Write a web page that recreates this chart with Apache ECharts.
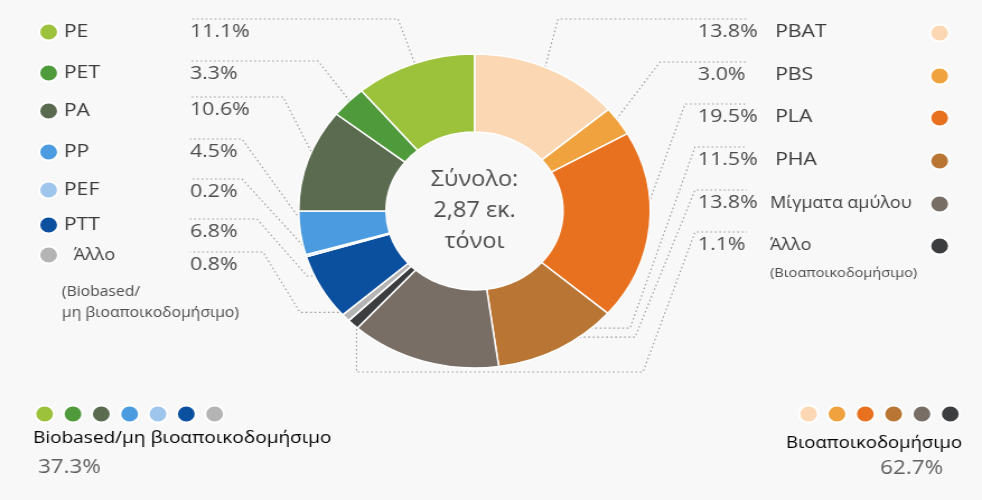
<!DOCTYPE html>
<html><head><meta charset="utf-8">
<script src="https://cdn.jsdelivr.net/npm/echarts@6/dist/echarts.min.js"></script>
<style>
html,body{margin:0;padding:0;background:#f8f8f8;overflow:hidden;width:982px;height:500px}
#c{width:877px;height:500px;transform:scaleX(1.119726);transform-origin:0 0;}
</style>
</head><body><div id="c"></div>
<script>
// ---------------- data ----------------
const leftNames  = ['PE', 'PET', 'PA', 'PP', 'PEF', 'PTT', 'Άλλο'];
const leftValues = [11.1, 3.3, 10.6, 4.5, 0.2, 6.8, 0.8];
const rightNames  = ['PBAT', 'PBS', 'PLA', 'PHA', 'Μίγματα αμύλου', 'Άλλο'];
const rightValues = [13.8, 3.0, 19.5, 11.5, 13.8, 1.1];
const leftGroupLabel  = 'Biobased/μη βιοαποικοδομήσιμο';
const rightGroupLabel = 'Βιοαποικοδομήσιμο';
const leftNote  = '(Biobased/\nμη βιοαποικοδομήσιμο)';
const rightNote = '(Βιοαποικοδομήσιμο)';
const centerLines = ['Σύνολο:', '2,87 εκ.', 'τόνοι'];

// ---------------- style ----------------
const leftColors  = ['#9cc23c', '#4f9a3b', '#5a6b4f', '#4b9be0', '#9ec5ec', '#0b4f9f', '#b4b4b4'];
const rightColors = ['#fbd7b4', '#efa23d', '#e8711f', '#b87534', '#786e66', '#3b3d3f'];
const FONT = "'Open Sans', 'Noto Sans', sans-serif";
const SX = 982 / 877;
const X = v => v / SX;           // reference px -> chart px
const CX = X(474.5), CY = 211, R_IN = 79, R_OUT = 157;
const DOT = 17;

// layout (reference pixel coordinates)
const LEFT_PCT_X = 190, RIGHT_PCT_X = 698, RIGHT_LINE_END = 747, LINE_OFF = 13;
const leftPctY  = [32, 74, 110, 152, 192, 232, 265];
const leftNameY = [32, 73, 111, 152, 190, 225, 255];
const rightRowY = [32, 75, 117, 160, 203, 245];
const leftRoutes = [
  {f: .93, via: [], elbow: 398},
  {f: .95, via: [], elbow: 318},
  {f: .95, via: [], elbow: 283},
  {f: .95, via: [], elbow: 242},
  {f: .97, via: [], elbow: 242},
  {f: .85, via: [[307, 'A']], elbow: 257},
  {f: .95, via: [[300, 'A']], elbow: 263}
];
const rightRoutes = [
  {f: .90, via: [], elbow: 558},
  {f: .95, via: [], elbow: 660},
  {f: .95, via: [], elbow: 685},
  {f: .85, via: [[630, 'A']], elbow: 695},
  {f: .84, via: [[635, 'A']], elbow: 695},
  {f: .97, via: [['A', 372], [643, 372]], elbow: 695}
];

// ---------------- build ----------------
const pieData = [];
const meta = [];
rightNames.forEach((n, i) => {
  pieData.push({name: 'R|' + n, value: rightValues[i], itemStyle: {color: rightColors[i]}});
  meta.push({side: 'R', idx: i});
});
for (let i = leftNames.length - 1; i >= 0; i--) {
  pieData.push({name: 'L|' + leftNames[i], value: leftValues[i], itemStyle: {color: leftColors[i]}});
  meta.push({side: 'L', idx: i});
}
const total = pieData.reduce((s, d) => s + d.value, 0);
const leftSum = leftValues.reduce((s, v) => s + v, 0);
const rightSum = rightValues.reduce((s, v) => s + v, 0);

function labelFormatter(p) {
  const m = meta[p.dataIndex];
  const pct = p.value.toFixed(1) + '%';
  if (m.side === 'L') return pct;
  const name = rightNames[m.idx];
  if (m.idx === 4) return '{p2|' + pct + '}{s|' + name + '}';
  if (m.idx === 5) return '{p2|' + pct + '}{s|' + name + '}\n{sub|' + rightNote + '}';
  return '{p|' + pct + '}{n|' + name + '}';
}

function labelLayout(p) {
  const m = meta[p.dataIndex];
  let ux, uy;
  const pts = p.labelLinePoints;
  if (pts && pts[0]) {
    ux = pts[0][0] - CX; uy = pts[0][1] - CY;
    const l = Math.hypot(ux, uy) || 1; ux /= l; uy /= l;
  } else {
    let before = 0;
    for (let k = 0; k < p.dataIndex; k++) before += pieData[k].value;
    const ang = (before + pieData[p.dataIndex].value / 2) / total * 2 * Math.PI;
    ux = Math.sin(ang); uy = -Math.cos(ang);
  }
  const r = m.side === 'L' ? leftRoutes[m.idx] : rightRoutes[m.idx];
  const A = [CX + ux * R_OUT * r.f, CY + uy * R_OUT * r.f];
  const line = [A];
  r.via.forEach(v => line.push([v[0] === 'A' ? A[0] : X(v[0]), v[1] === 'A' ? A[1] : v[1]]));
  if (m.side === 'L') {
    const y = leftPctY[m.idx], ly = y - LINE_OFF;
    line.push([X(r.elbow), ly], [X(LEFT_PCT_X), ly]);
    return {x: X(LEFT_PCT_X), y: y, align: 'left', verticalAlign: 'middle', labelLinePoints: line};
  }
  const y = rightRowY[m.idx], ly = y - LINE_OFF;
  line.push([X(r.elbow), ly], [X(RIGHT_LINE_END), ly]);
  return {x: X(RIGHT_PCT_X), y: y - 12, align: 'left', verticalAlign: 'top', labelLinePoints: line};
}

const legends = [];
leftNames.forEach((n, i) => {
  legends.push({
    left: X(38), top: leftNameY[i] - 9.5, orient: 'vertical', padding: 0,
    icon: 'circle', itemWidth: DOT, itemHeight: DOT, data: ['L|' + n],
    formatter: name => name.split('|')[1],
    textStyle: {fontFamily: FONT, fontSize: i === 6 ? 16 : 19, color: '#3c3c3c', padding: i === 6 ? [0, 0, 0, 9] : 0}
  });
});
rightNames.forEach((n, i) => {
  legends.push({
    left: X(929), top: rightRowY[i] - DOT / 2, orient: 'vertical', padding: 0,
    icon: 'circle', itemWidth: DOT, itemHeight: DOT, data: ['R|' + n],
    formatter: () => '', textStyle: {fontSize: 10}
  });
});
legends.push({
  left: X(34), top: 413 - DOT / 2, orient: 'horizontal', padding: 0, itemGap: 6.3,
  icon: 'circle', itemWidth: DOT, itemHeight: DOT, data: leftNames.map(n => 'L|' + n),
  formatter: () => '', textStyle: {fontSize: 10}
});
legends.push({
  left: X(798), top: 413 - DOT / 2, orient: 'horizontal', padding: 0, itemGap: 6.3,
  icon: 'circle', itemWidth: DOT, itemHeight: DOT, data: rightNames.map(n => 'R|' + n),
  formatter: () => '', textStyle: {fontSize: 10}
});

function txt(x, y, text, size, color, align, vAlign, lh) {
  return {type: 'text', x: x, y: y, silent: true, style: {
    text: text, fontFamily: FONT, fontSize: size, fill: color,
    align: align, textAlign: align, verticalAlign: vAlign, textVerticalAlign: vAlign,
    lineHeight: lh || size * 1.3
  }};
}

const chart = echarts.init(document.getElementById('c'), null, {renderer: 'canvas'});
chart.setOption({
  animation: false,
  backgroundColor: '#f8f8f8',
  legend: legends,
  graphic: [
    txt(CX, CY, centerLines.join('\n'), 21, '#4d4d4d', 'center', 'middle', 31),
    txt(X(62), 282, leftNote, 14, '#4d4d4d', 'left', 'top', 21),
    txt(X(33), 438, leftGroupLabel, 17, '#000', 'left', 'middle'),
    txt(X(38), 467, leftSum.toFixed(1) + '%', 20, '#606060', 'left', 'middle'),
    txt(X(962), 443, rightGroupLabel, 16.5, '#000', 'right', 'middle'),
    txt(X(943), 468, rightSum.toFixed(1) + '%', 20, '#606060', 'right', 'middle')
  ],
  series: [{
    type: 'pie',
    center: [CX, CY],
    radius: [R_IN, R_OUT],
    startAngle: 90,
    clockwise: true,
    avoidLabelOverlap: false,
    emphasis: {scale: false},
    itemStyle: {borderColor: '#ffffff', borderWidth: 1.5},
    label: {
      show: true, position: 'outside', fontFamily: FONT, fontSize: 19, color: '#4d4d4d',
      formatter: labelFormatter,
      rich: {
        p:   {fontFamily: FONT, fontSize: 19, color: '#4d4d4d', width: X(775 - 698), lineHeight: 24},
        p2:  {fontFamily: FONT, fontSize: 19, color: '#4d4d4d', width: X(770 - 698), lineHeight: 24},
        n:   {fontFamily: FONT, fontSize: 19, color: '#3c3c3c', lineHeight: 24},
        s:   {fontFamily: FONT, fontSize: 16, color: '#3c3c3c', lineHeight: 24},
        sub: {fontFamily: FONT, fontSize: 13, color: '#4d4d4d', lineHeight: 32, padding: [0, 0, 0, X(770 - 698)]}
      }
    },
    labelLine: {show: true, length: 10, length2: 10, smooth: false,
      lineStyle: {color: '#9a9a9a', width: 1.1, type: [1.5, 2.5]}},
    labelLayout: labelLayout,
    data: pieData
  }]
});
</script>
</body></html>
